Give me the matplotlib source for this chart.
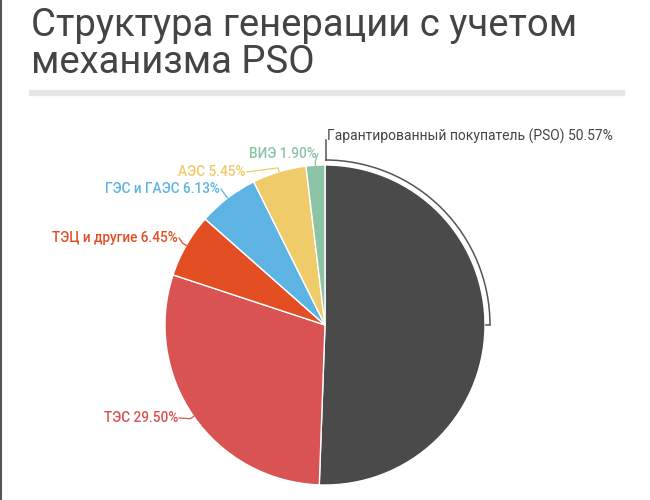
import matplotlib.pyplot as plt
from matplotlib.patches import Arc
from matplotlib.lines import Line2D
import numpy as np

# data
labels = ['Гарантированный покупатель (PSO)', 'ТЭС', 'ТЭЦ и другие',
          'ГЭС и ГАЭС', 'АЭС', 'ВИЭ']
shares = [50.57, 29.50, 6.45, 6.13, 5.45, 1.90]
colors = ['#4a4a4a', '#da5353', '#e44e23', '#5db4e3', '#efcb6a', '#8cc3a5']
label_colors = ['#4a4a4a', '#da5353', '#e44e23', '#5db4e3', '#efcb6a', '#8cc3a5']

title = 'Структура генерации с учетом\nмеханизма PSO'


def main():
    plt.rcParams['font.family'] = ['Roboto', 'DejaVu Sans']

    W, H = 650, 500
    fig = plt.figure(figsize=(6.5, 5), dpi=100)
    ax = fig.add_axes([0, 0, 1, 1])

    cx, cy, r = 325, 500 - 325, 160
    wedges, _ = ax.pie(shares, colors=colors, startangle=90, counterclock=False,
                       center=(cx, cy), radius=r, frame=True,
                       wedgeprops=dict(edgecolor='white', linewidth=1))
    ax.set_xlim(0, W)
    ax.set_ylim(0, H)
    ax.set_aspect('equal')
    ax.axis('off')

    # title and underline
    fig.text(31 / W, 1 - 7 / H, title, fontsize=27.5, fontweight='normal',
             color='#444444', va='top', ha='left', linespacing=1.0)
    ax.add_line(Line2D([32, 622], [H - 93, H - 93], color='#e6e6e6', lw=4.5))
    # left border
    ax.add_line(Line2D([1, 1], [0, H], color='#555555', lw=1.5))

    # highlight arc on the PSO slice
    ro = r + 5
    ax.add_patch(Arc((cx, cy), 2 * ro, 2 * ro, theta1=0, theta2=90,
                     color='#555555', lw=1.1))
    ax.add_line(Line2D([cx + ro, cx + ro - 4], [cy, cy], color='#555555', lw=1.1))
    ax.add_line(Line2D([cx + 1, cx + 1], [cy + ro, cy + ro + 20], color='#555555', lw=1.1))
    ax.text(cx + 2, cy + ro + 24, f'{labels[0]} {shares[0]:.2f}%', fontsize=10,
            color='#444444', ha='left', va='center')

    # label anchors (right end of text, pixel coords from top)
    anchors = [None, (178, 418), (178, 238), (220, 189), (246, 172), (317, 154)]
    cum = np.cumsum([0] + shares)
    for i in range(1, len(shares)):
        mid = (cum[i] + cum[i + 1]) / 2
        ang = np.deg2rad(90 - mid * 3.6)
        ex, ey = cx + r * np.cos(ang), cy + r * np.sin(ang)
        lx, ly = anchors[i]
        ly = H - ly
        ax.text(lx, ly, f'{labels[i]} {shares[i]:.2f}%', fontsize=9.8,
                fontweight='medium', color=label_colors[i], ha='right', va='center')
        bx = ex + 4 * np.cos(ang)
        by = ey + 4 * np.sin(ang)
        ax.add_line(Line2D([lx + 1, bx, ex], [ly, by, ey], color=label_colors[i], lw=0.9))

    fig.savefig('out.png', dpi=100, facecolor='white')


if __name__ == '__main__':
    main()
